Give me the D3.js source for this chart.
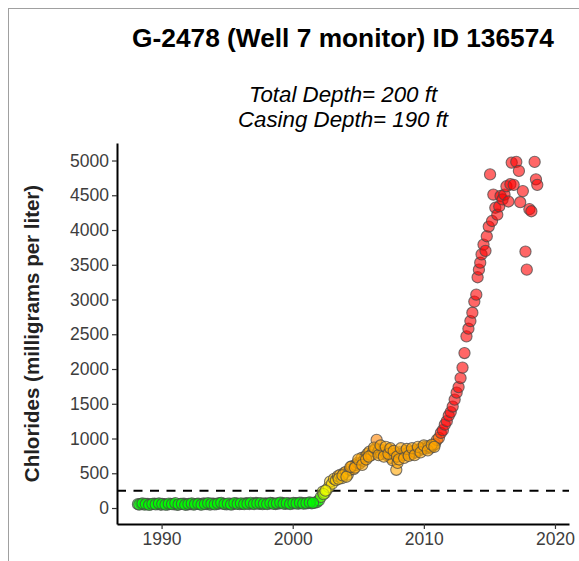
<!DOCTYPE html>
<html>
<head>
<meta charset="utf-8">
<script src="https://cdn.jsdelivr.net/npm/d3@7"></script>
<style>
  html, body { margin: 0; padding: 0; background: #fff; }
  svg { display: block; font-family: "Liberation Sans", Arial, sans-serif; }
</style>
</head>
<body>
<svg id="chart" width="579" height="561"></svg>
<script>
// ---- data ----
const years = [
  1988.2, 1988.45, 1988.7, 1988.95, 1989.2, 1989.45, 1989.7, 1989.95,
  1990.2, 1990.45, 1990.7, 1990.95, 1991.2, 1991.45, 1991.7, 1991.95,
  1992.2, 1992.45, 1992.7, 1992.95, 1993.2, 1993.45, 1993.7, 1993.95,
  1994.2, 1994.45, 1994.7, 1994.95, 1995.2, 1995.45, 1995.7, 1995.95,
  1996.2, 1996.45, 1996.7, 1996.95, 1997.2, 1997.45, 1997.7, 1997.95,
  1998.2, 1998.45, 1998.7, 1998.95, 1999.2, 1999.45, 1999.7, 1999.95,
  2000.2, 2000.45, 2000.7, 2000.95, 2001.2, 2001.45, 2001.7,
  2001.85, 2002.0, 2002.15, 2002.3, 2002.45, 2002.6, 2002.75, 2002.85, 2003.0,
  2003.15, 2003.3, 2003.45, 2003.6, 2003.75, 2003.9, 2004.05, 2004.2, 2004.35,
  2004.5, 2004.65, 2004.8, 2004.95, 2005.1, 2005.25, 2005.4, 2005.55, 2005.7,
  2005.85, 2006.0, 2006.15, 2006.3, 2006.4, 2006.5, 2006.6, 2006.75, 2006.9,
  2007.05, 2007.2, 2007.35, 2007.5, 2007.6, 2007.75, 2007.9, 2008.0, 2008.15,
  2008.3, 2008.45, 2008.6, 2008.75, 2008.9, 2009.05, 2009.2, 2009.35, 2009.5,
  2009.65, 2009.8, 2009.95, 2010.1, 2010.25, 2010.4, 2010.55, 2010.7, 2010.85,
  2011.0, 2011.15, 2011.3, 2011.45, 2011.6, 2011.75, 2011.9, 2012.05, 2012.2,
  2012.35, 2012.5, 2012.65, 2012.8, 2012.95, 2013.1, 2013.25, 2013.4, 2013.55,
  2013.7, 2013.85, 2014.0, 2014.1, 2014.2, 2014.3, 2014.4, 2014.55, 2014.7,
  2014.8, 2014.95, 2015.05, 2015.2, 2015.3, 2015.45, 2015.6, 2015.75, 2015.85,
  2016.0, 2016.15, 2016.3, 2016.45, 2016.6, 2016.7, 2016.85, 2017.05, 2017.25,
  2017.35, 2017.55, 2017.75, 2017.85, 2018.05, 2018.2, 2018.45, 2018.55, 2018.65,
  // additional samples
  1988.3, 1988.55, 1988.8, 1989.05, 1989.3, 1989.55, 1989.8, 1990.05,
  1990.3, 1990.55, 1990.8, 1991.05, 1991.3, 1991.55, 1991.8, 1992.05,
  1992.3, 1992.55, 1992.8, 1993.05, 1993.3, 1993.55, 1993.8, 1994.05,
  1994.3, 1994.55, 1994.8, 1995.05, 1995.3, 1995.55, 1995.8, 1996.05,
  1996.3, 1996.55, 1996.8, 1997.05, 1997.3, 1997.55, 1997.8, 1998.05,
  1998.3, 1998.55, 1998.8, 1999.05, 1999.3, 1999.55, 1999.8, 2000.05,
  2000.3, 2000.55, 2000.8, 2001.05, 2001.3, 2001.55,
  2002.35, 2002.5, 2003.5, 2003.8, 2004.1, 2004.4, 2004.75, 2005.0, 2005.3,
  2005.6, 2005.8, 2006.2, 2006.55, 2006.7, 2006.95, 2007.1, 2007.3, 2007.45,
  2007.7, 2007.95, 2008.1, 2008.25, 2008.5, 2008.7, 2008.85, 2009.1, 2009.3,
  2009.55, 2009.75, 2010.0, 2010.3, 2010.6, 2010.8
];
const chlorides = [
  55, 60, 48, 58, 52, 62, 55, 47, 57, 50, 60, 54, 45, 58, 62, 50,
  56, 48, 60, 53, 65, 58, 50, 62, 55, 68, 60, 52, 64, 57, 66, 55,
  60, 70, 58, 63, 72, 60, 55, 66, 62, 70, 58, 65, 74, 60, 68, 63,
  70, 62, 75, 66, 72, 68, 78,
  85, 110, 160, 235, 215, 260, 300, 380, 350,
  420, 400, 460, 475, 430, 500, 520, 480, 550,
  600, 560, 620, 650, 640, 720, 680, 740, 780,
  810, 760, 820, 850, 980, 800, 840, 780, 830,
  800, 760, 840, 720, 690, 780, 550, 650, 800,
  780, 760, 820, 790, 810, 770, 820, 800, 840,
  830, 860, 850, 880, 860, 890, 870, 900, 920,
  980, 1010, 1080, 1120, 1200, 1250, 1330, 1380, 1460,
  1560, 1660, 1740, 1870, 2020, 2230, 2470, 2580, 2690,
  2810, 2970, 3070, 3320, 3430, 3530, 3650, 3790, 3700,
  3910, 4050, 4800, 4130, 4510, 4320, 4220, 4340, 4490,
  4440, 4510, 4630, 4410, 4660, 4970, 4650, 4980, 4850,
  4400, 4560, 3690, 3430, 4300, 4270, 4980, 4730, 4650,
  // additional samples
  50, 65, 58, 44, 60, 52, 66, 58, 48, 63, 55, 70, 52, 60, 47, 58,
  66, 55, 62, 48, 58, 70, 62, 52, 66, 75, 58, 64, 50, 70, 60, 68,
  56, 62, 74, 58, 66, 70, 62, 58, 72, 60, 68, 78, 62, 70, 58, 72,
  66, 76, 64, 70, 80, 74,
  200, 250, 420, 470, 450, 590, 580, 700, 620,
  700, 740, 870, 760, 900, 740, 880, 780, 860,
  820, 740, 700, 860, 720, 850, 750, 860, 760,
  880, 800, 900, 830, 910, 880
];
const xTicks = [1990, 2000, 2010, 2020];
const yTicks = [0, 500, 1000, 1500, 2000, 2500, 3000, 3500, 4000, 4500, 5000];
const threshold = 250;
const titleText = "G-2478 (Well 7 monitor) ID 136574";
const subtitleLines = ["Total Depth= 200 ft", "Casing Depth= 190 ft"];
const yTitle = "Chlorides (milligrams per liter)";
const colorStops = [0, 100, 250, 500, 950, 1100, 5000];
const colorRange = ["#00ff00", "#00ff00", "#ffff00", "#ffa500", "#ffa500", "#ff0000", "#ff0000"];

// ---- drawing ----
const svg = d3.select("#chart");
const pLeft = 117, pRight = 569, pTop = 143, pBottom = 524;

const x = d3.scaleLinear().domain([1986.6, 2021.07]).range([pLeft, pRight]);
const y = d3.scaleLinear().domain([-230, 5252]).range([pBottom, pTop]);
const color = d3.scaleLinear().domain(colorStops).range(colorRange);

// outer frame
svg.append("rect").attr("x", 8.5).attr("y", 8.5).attr("width", 600).attr("height", 600)
  .attr("fill", "none").attr("stroke", "#a0a0a0").attr("stroke-width", 1);

// title
svg.append("text").attr("x", (pLeft + pRight) / 2).attr("y", 47)
  .attr("text-anchor", "middle").attr("font-weight", "bold").attr("font-size", 26.3)
  .attr("fill", "#000").text(titleText);
svg.append("text").attr("text-anchor", "middle").attr("font-style", "italic")
  .attr("font-size", 22.3).attr("fill", "#000")
  .selectAll("tspan").data(subtitleLines).join("tspan")
  .attr("x", (pLeft + pRight) / 2).attr("y", (d, i) => 102 + i * 25).text(d => d);

// threshold line
svg.append("line").attr("x1", pLeft).attr("x2", pRight)
  .attr("y1", y(threshold)).attr("y2", y(threshold))
  .attr("stroke", "#000").attr("stroke-width", 2).attr("stroke-dasharray", "9,7.5");

// points
const pts = years.map((yr, i) => ({ yr, v: chlorides[i] }));
svg.append("g").selectAll("circle").data(pts).join("circle")
  .attr("cx", d => x(d.yr)).attr("cy", d => y(d.v)).attr("r", 5.6)
  .attr("fill", d => color(d.v)).attr("fill-opacity", 0.6)
  .attr("stroke", "#4a4a4a").attr("stroke-opacity", 0.75).attr("stroke-width", 1.1);

// axes
const xAxis = svg.append("g").attr("transform", `translate(0,${pBottom})`)
  .call(d3.axisBottom(x).tickValues(xTicks).tickFormat(d3.format("d")).tickSize(5).tickSizeOuter(0));
const yAxis = svg.append("g").attr("transform", `translate(${pLeft},0)`)
  .call(d3.axisLeft(y).tickValues(yTicks).tickFormat(d3.format("d")).tickSize(5).tickSizeOuter(0));
[xAxis, yAxis].forEach(ax => {
  ax.select(".domain").attr("stroke", "#000").attr("stroke-width", 2);
  ax.selectAll(".tick line").attr("stroke", "#333").attr("stroke-width", 1.2);
  ax.selectAll(".tick text").attr("fill", "#3d3d3d").attr("font-size", 17.5)
    .attr("font-family", "Liberation Sans, Arial, sans-serif");
});
xAxis.selectAll(".tick text").attr("dy", "0.71em").attr("y", 9);
yAxis.selectAll(".tick text").attr("x", -8);

// y title
svg.append("text").attr("transform", `translate(39,${(pTop + pBottom) / 2}) rotate(-90)`)
  .attr("text-anchor", "middle").attr("font-weight", "bold").attr("font-size", 20.5)
  .attr("fill", "#222").text(yTitle);
</script>
</body>
</html>
